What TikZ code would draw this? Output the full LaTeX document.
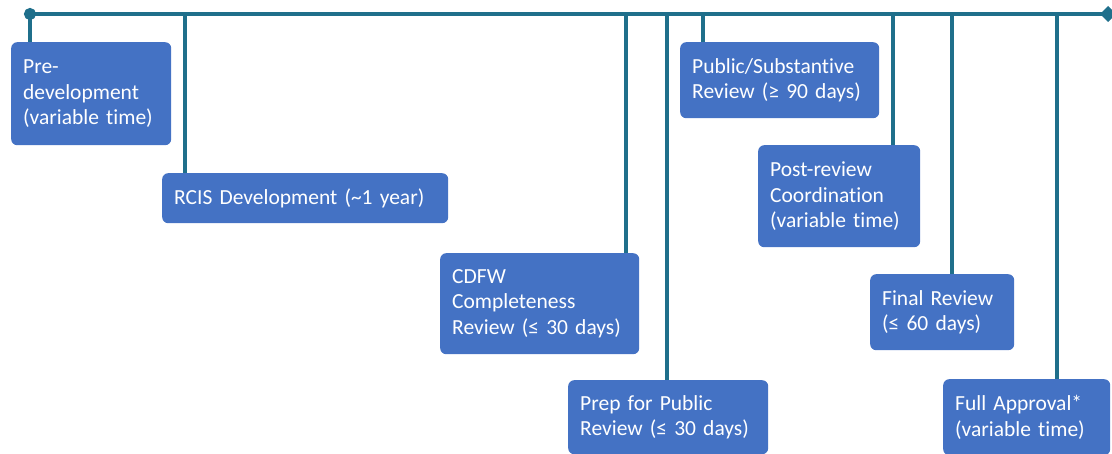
\documentclass[tikz,border=0pt]{standalone}
\usepackage{fontspec}
\setmainfont{Carlito}[Ligatures=CommonOff]
\usetikzlibrary{arrows.meta}

\definecolor{lineteal}{RGB}{31,111,139}
\definecolor{boxblue}{RGB}{68,114,196}

\tikzset{
  phase/.style={fill=boxblue, text=white, rounded corners=6pt, align=left,
    anchor=north west, inner xsep=12pt, inner ysep=3pt,
    font=\fontsize{21.5}{25.5}\selectfont},
  link/.style={draw=lineteal, line width=3.2pt}
}

\begin{document}
\begin{tikzpicture}[x=1pt,y=1pt]
\useasboundingbox (0,0) rectangle (1112,-454);

% Zeitachse
\coordinate (start) at (24,-14);
\coordinate (end) at (1116,-14);
\coordinate (t1) at (30,-14);
\coordinate (t2) at (185,-14);
\coordinate (t3) at (626,-14);
\coordinate (t4) at (667,-14);
\coordinate (t5) at (703,-14);
\coordinate (t6) at (893,-14);
\coordinate (t7) at (952,-14);
\coordinate (t8) at (1057,-14);

% Phasen
\node[phase, text width=136pt, minimum height=103pt] (pre) at (11,-42)
  {Pre-\\development\\(variable time)};
\node[phase, text width=262pt, minimum height=50pt] (rcis) at (162,-173)
  {RCIS Development (\textasciitilde1 year)};
\node[phase, text width=175pt, minimum height=101pt] (cdfw) at (440,-253)
  {CDFW\\Completeness\\Review (≤ 30 days)};
\node[phase, text width=176pt, minimum height=74pt] (prep) at (568,-380)
  {Prep for Public\\Review (≤ 30 days)};
\node[phase, text width=175pt, minimum height=76pt] (public) at (680,-42)
  {Public/Substantive\\Review (≥ 90 days)};
\node[phase, text width=138pt, minimum height=102pt] (post) at (758,-145)
  {Post-review\\Coordination\\(variable time)};
\node[phase, text width=120pt, minimum height=76pt] (final) at (870,-274)
  {Final Review\\(≤ 60 days)};
\node[phase, text width=143pt, minimum height=76pt] (full) at (943,-379)
  {Full Approval*\\(variable time)};

% Verbindungen
\draw[link] (t1) -- (t1 |- pre.north);
\draw[link] (t2) -- (t2 |- rcis.north);
\draw[link] (t3) -- (t3 |- cdfw.north);
\draw[link] (t4) -- (t4 |- prep.north);
\draw[link] (t5) -- (t5 |- public.north);
\draw[link] (t6) -- (t6 |- post.north);
\draw[link] (t7) -- (t7 |- final.north);
\draw[link] (t8) -- (t8 |- full.north);

\draw[link, {Circle[length=12pt]}-{Diamond[length=16pt,width=16pt]}] (start) -- (end);

\end{tikzpicture}
\end{document}
